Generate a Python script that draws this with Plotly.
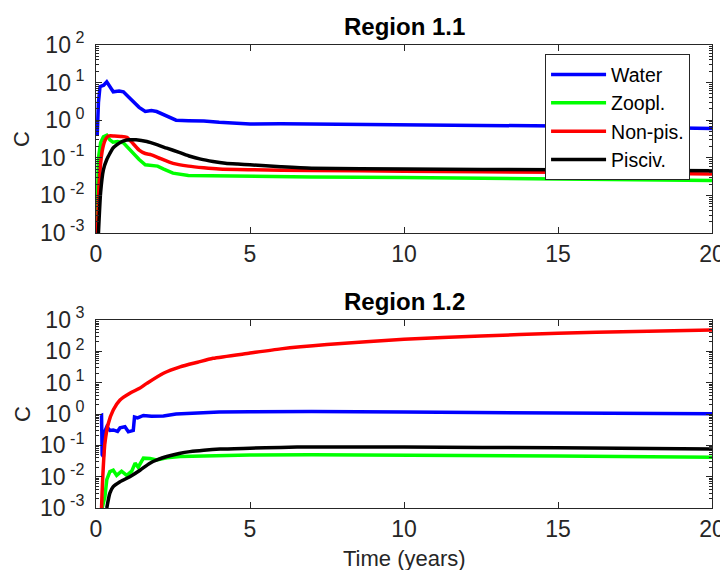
import plotly.graph_objects as go
from plotly.subplots import make_subplots

# ---------------- Data: Region 1.1 ----------------
r1_water_t = [0.04, 0.08, 0.13, 0.25, 0.35, 0.45, 0.56, 0.75, 0.89, 1.05, 1.2, 1.4, 1.6, 1.8, 1.97,
              2.2, 2.4, 2.6, 3.0, 3.5, 4.0, 5.0, 6, 7, 8, 10, 12, 15, 18, 20]
r1_water = [0.4, 3.0, 7.8, 8.5, 10.5, 7.5, 5.7, 6.0, 5.7, 4.2, 3.1, 2.2, 1.7, 1.8, 1.7,
            1.4, 1.15, 1.0, 0.97, 0.95, 0.88, 0.79, 0.8, 0.79, 0.8, 0.78, 0.74, 0.7, 0.64, 0.6]

r1_zoo_t = [0.02, 0.08, 0.15, 0.24, 0.35, 0.45, 0.55, 0.7, 0.89, 1.05, 1.2, 1.4, 1.6, 1.8, 2.0,
            2.2, 2.5, 3, 4, 5, 7, 10, 15, 20]
r1_zoo = [0.001, 0.1, 0.25, 0.36, 0.4, 0.3, 0.26, 0.27, 0.25, 0.18, 0.13, 0.09, 0.065, 0.062, 0.06,
          0.05, 0.039, 0.034, 0.033, 0.032, 0.031, 0.03, 0.028, 0.025]

r1_nonpis_t = [0.05, 0.1, 0.2, 0.3, 0.4, 0.6, 0.8, 1.0, 1.2, 1.4, 1.6, 1.8, 2.1, 2.5, 3.0, 3.5, 4,
               5, 7, 10, 15, 20]
r1_nonpis = [0.001, 0.02, 0.15, 0.3, 0.38, 0.38, 0.37, 0.35, 0.24, 0.16, 0.13, 0.12, 0.095, 0.071,
             0.06, 0.054, 0.05, 0.048, 0.046, 0.044, 0.041, 0.037]

r1_pisciv_t = [0.08, 0.15, 0.24, 0.35, 0.45, 0.55, 0.67, 0.8, 0.95, 1.1, 1.3, 1.65, 2.0, 2.3, 2.7,
               3.05, 3.4, 3.8, 4.2, 4.6, 5, 6, 7, 10, 15, 20]
r1_pisciv = [0.001, 0.012, 0.048, 0.09, 0.13, 0.18, 0.22, 0.26, 0.29, 0.3, 0.3, 0.27, 0.22, 0.18,
             0.14, 0.11, 0.092, 0.08, 0.072, 0.068, 0.065, 0.058, 0.053, 0.05, 0.048, 0.045]

# ---------------- Data: Region 1.2 ----------------
r2_water_t = [0.15, 0.18, 0.2, 0.24, 0.3, 0.35, 0.45, 0.56, 0.7, 0.78, 0.94, 1.05, 1.21, 1.25, 1.35,
              1.54, 1.8, 2.19, 2.6, 3.27, 4, 5, 7, 10, 15, 20]
r2_water = [0.87, 0.9, 0.05, 0.044, 0.3, 0.39, 0.3, 0.31, 0.28, 0.36, 0.39, 0.27, 0.3, 0.8, 0.75,
            0.9, 0.85, 0.87, 1.0, 1.1, 1.15, 1.17, 1.2, 1.15, 1.1, 1.02]

r2_zoo_t = [0.2, 0.25, 0.29, 0.35, 0.45, 0.56, 0.67, 0.83, 1.0, 1.16, 1.27, 1.37, 1.54, 1.75, 1.97,
            2.3, 2.73, 3.5, 5, 7, 10, 15, 20]
r2_zoo = [0.001, 0.0015, 0.0023, 0.008, 0.0145, 0.016, 0.011, 0.015, 0.011, 0.015, 0.027, 0.02,
          0.039, 0.038, 0.034, 0.04, 0.044, 0.046, 0.049, 0.05, 0.049, 0.046, 0.042]

r2_nonpis_t = [0.18, 0.22, 0.29, 0.4, 0.56, 0.78, 1.1, 1.4, 1.65, 2.19, 2.73, 3.3, 3.8, 5.0, 6, 7.5,
               10, 12.5, 15, 17.5, 20]
r2_nonpis = [0.001, 0.01, 0.12, 0.5, 1.35, 2.8, 4.6, 6.5, 9.5, 20, 32, 45, 60, 88, 120, 165,
             245, 310, 380, 430, 480]

r2_pisciv_t = [0.35, 0.45, 0.56, 0.78, 1.1, 1.43, 1.75, 2.0, 2.3, 2.7, 3.05, 3.5, 4.03, 5, 6, 7,
               10, 15, 20]
r2_pisciv = [0.001, 0.003, 0.0048, 0.0069, 0.01, 0.016, 0.027, 0.035, 0.044, 0.055, 0.063, 0.07,
             0.076, 0.081, 0.086, 0.089, 0.088, 0.083, 0.076]

series_names = ["Water", "Zoopl.", "Non-pis.", "Pisciv."]
series_colors = ["#0000FF", "#00FF00", "#FF0000", "#000000"]
series_shapes = ["linear", "linear", "spline", "spline"]

x_ticks = [0, 5, 10, 15, 20]
top_y_exps = [-3, -2, -1, 0, 1, 2]
bot_y_exps = [-3, -2, -1, 0, 1, 2, 3]

FONT = "Liberation Sans, Arial, Helvetica, sans-serif"
AXC = "#262626"

fig = make_subplots(rows=2, cols=1, vertical_spacing=0.0)

region1 = [(r1_water_t, r1_water), (r1_zoo_t, r1_zoo), (r1_nonpis_t, r1_nonpis), (r1_pisciv_t, r1_pisciv)]
region2 = [(r2_water_t, r2_water), (r2_zoo_t, r2_zoo), (r2_nonpis_t, r2_nonpis), (r2_pisciv_t, r2_pisciv)]

for i, (t, v) in enumerate(region1):
    fig.add_trace(go.Scatter(x=t, y=v, mode="lines", name=series_names[i],
                             line=dict(color=series_colors[i], width=3.5,
                                       shape=series_shapes[i], smoothing=0.6),
                             showlegend=True), row=1, col=1)
for i, (t, v) in enumerate(region2):
    fig.add_trace(go.Scatter(x=t, y=v, mode="lines", name=series_names[i],
                             line=dict(color=series_colors[i], width=3.5,
                                       shape=series_shapes[i], smoothing=0.6),
                             showlegend=False), row=2, col=1)

common_x = dict(range=[0, 20], tickvals=x_ticks, ticks="inside", ticklen=6, tickcolor=AXC,
                showline=True, linecolor=AXC, linewidth=1, mirror="allticks", showgrid=False,
                zeroline=False, ticklabelstandoff=0,
                tickfont=dict(size=23, color=AXC, family=FONT))

def yaxis_cfg(exps):
    return dict(type="log", range=[exps[0], exps[-1]],
                tickvals=[10 ** e for e in exps],
                ticktext=["10<sup> %d</sup>" % e for e in exps],
                ticks="inside", ticklen=6, tickcolor=AXC,
                minor=dict(ticks="inside", ticklen=3, tickcolor=AXC, dtick="D1", showgrid=False),
                showline=True, linecolor=AXC, linewidth=1, mirror="allticks", showgrid=False,
                zeroline=False, ticklabelstandoff=6,
                tickfont=dict(size=23, color=AXC, family=FONT))

fig.update_xaxes(**common_x)
fig.update_yaxes(**yaxis_cfg(top_y_exps), row=1, col=1)
fig.update_yaxes(**yaxis_cfg(bot_y_exps), row=2, col=1)

# The page body adds an 8px offset; the figure is sized/margined to compensate.
fig.update_layout(
    width=720, height=562,
    margin=dict(l=88, r=16, t=37, b=62, autoexpand=False),
    paper_bgcolor="white", plot_bgcolor="white",
    font=dict(family=FONT, color=AXC),
    yaxis=dict(domain=[0.594, 1.0]),
    yaxis2=dict(domain=[0.0, 0.406]),
    legend=dict(x=0.729, y=0.98, xanchor="left", yanchor="top",
                bgcolor="white", bordercolor=AXC, borderwidth=1,
                font=dict(size=19.5, color="black", family=FONT),
                itemwidth=55, tracegroupgap=0),
    annotations=[
        dict(text="<b>Region 1.1</b>", x=0.5, y=1.039, xref="paper", yref="paper",
             xanchor="center", yanchor="middle", showarrow=False,
             font=dict(size=24, color="black", family=FONT)),
        dict(text="<b>Region 1.2</b>", x=0.5, y=0.445, xref="paper", yref="paper",
             xanchor="center", yanchor="middle", showarrow=False,
             font=dict(size=24, color="black", family=FONT)),
        dict(text="C", x=-0.12, y=0.797, xref="paper", yref="paper", textangle=-90,
             xanchor="center", yanchor="middle", showarrow=False,
             font=dict(size=22, color=AXC, family=FONT)),
        dict(text="C", x=-0.12, y=0.203, xref="paper", yref="paper", textangle=-90,
             xanchor="center", yanchor="middle", showarrow=False,
             font=dict(size=22, color=AXC, family=FONT)),
        dict(text="Time (years)", x=0.5, y=-0.108, xref="paper", yref="paper",
             xanchor="center", yanchor="middle", showarrow=False,
             font=dict(size=22, color=AXC, family=FONT)),
    ],
)

fig.write_html("out.html")
